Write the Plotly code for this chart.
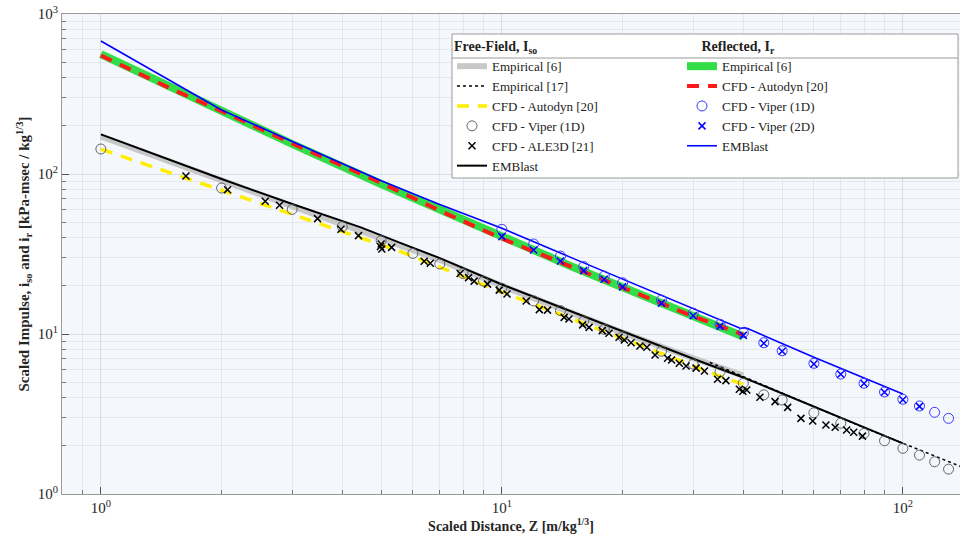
import numpy as np
import plotly.graph_objects as go

# ---------------- data ----------------
# Free-field
ff_emp6_z = [1, 1.5, 2, 3, 5, 7, 10, 15, 20, 30, 40]
ff_emp6_i = [172, 118, 90.5, 63, 39.5, 29, 20.0, 13.4, 10.2, 7.05, 5.5]

ff_emp17_z = [33, 40, 50, 60, 80, 100, 120, 140]
ff_emp17_i = [6.65, 5.41, 4.25, 3.52, 2.6, 2.07, 1.72, 1.48]

ff_autodyn_z = [1, 1.14, 2, 3, 5.6, 9.73, 20, 35.2, 40]
ff_autodyn_i = [143, 128, 79.4, 56, 32.7, 18.8, 9.4, 5.41, 4.85]

ff_viper1d_z = [1, 2, 3, 4, 5, 6, 7, 8, 9, 10, 12, 14, 16, 18, 20, 25, 30, 35, 40,
                45, 50, 60, 70, 80, 90, 100, 110, 120, 130]
ff_viper1d_i = [143.3, 81.7, 60.1, 46.9, 38.3, 31.9, 27.4, 23.9, 21.4, 19.3, 16.1, 14.0,
                12.05, 10.7, 9.62, 7.8, 6.49, 5.81, 4.92, 4.17, 3.87, 3.22, 2.77, 2.39,
                2.15, 1.93, 1.75, 1.59, 1.43]

ff_ale3d_z = [1.63, 2.07, 2.57, 2.79, 3.47, 3.97, 4.39, 4.98, 5.0, 5.02, 5.31, 6.4, 6.63,
              7.87, 8.26, 8.53, 9.21, 9.85, 10.3, 11.5, 12.4, 13.0, 14.3, 14.7, 15.9, 16.5,
              17.8, 18.5, 19.6, 20.2, 21.0, 22.1, 23.0, 24.1, 25.9, 26.5, 27.7, 28.8, 30.5,
              32.0, 34.5, 36.2, 39.1, 39.9, 40.8, 44.0, 48.0, 51.6, 55.7, 59.6, 64.3, 67.8,
              72.4, 75.4, 79.3]
ff_ale3d_i = [97.2, 79.8, 67.5, 63.7, 52.6, 45.1, 41.2, 35.2, 36.5, 34.0, 34.8, 28.5, 27.7,
              23.9, 22.5, 21.4, 20.5, 18.8, 17.8, 16.1, 14.2, 14.1, 12.7, 12.4, 11.4, 11.0,
              10.5, 10.1, 9.54, 9.17, 8.82, 8.41, 8.26, 7.39, 7.05, 6.88, 6.56, 6.31, 6.12,
              5.87, 5.21, 5.11, 4.51, 4.39, 4.47, 4.02, 3.78, 3.48, 2.97, 2.86, 2.70, 2.61,
              2.51, 2.43, 2.30]

ff_emblast_z = [1, 1.5, 2, 3, 4.45, 5.6, 7, 10, 15, 20, 30, 40, 60, 80, 100]
ff_emblast_i = [177, 121.5, 93, 64.9, 46.4, 37, 29.8, 20.4, 13.7, 10.4, 7.0, 5.35, 3.52, 2.6, 2.07]

# Reflected
rf_emp6_z = [1, 1.5, 2, 3, 5, 7, 10, 15, 20, 30, 40]
rf_emp6_i = [562, 345, 245, 154, 86.6, 59.7, 40.2, 26.3, 19.6, 13.0, 9.65]

rf_autodyn_z = [1, 1.5, 2, 3, 5, 7, 10, 15, 20, 30, 40]
rf_autodyn_i = [550, 340, 247, 155, 88, 59, 39.5, 26, 19.4, 12.9, 9.9]

rf_viper1d_z = [10, 12, 14, 16, 18, 20, 25, 30, 35, 40, 45, 50, 60, 70, 80, 90, 100, 110, 120, 130]
rf_viper1d_i = [45.1, 36.5, 30.7, 26.4, 23.0, 20.9, 16.3, 13.5, 11.5, 10.2, 8.82, 7.86, 6.56,
                5.62, 4.92, 4.34, 3.91, 3.55, 3.24, 2.97]

rf_viper2d_z = [10, 12, 14, 16, 18, 20, 25, 30, 35, 40, 45, 50, 60, 70, 80, 90, 100, 110]
rf_viper2d_i = [40.6, 33.5, 28.6, 24.9, 22.0, 19.7, 15.6, 13.0, 11.2, 9.8, 8.75, 7.8, 6.5,
                5.6, 4.9, 4.32, 3.88, 3.53]

rf_emblast_z = [1, 1.5, 2, 3, 5, 7, 10, 15, 20, 30, 39.4, 40.2, 41, 60, 80, 100]
rf_emblast_i = [678, 379, 251, 159.7, 90.8, 64.4, 45.8, 29.8, 22.1, 14.4, 10.82, 10.95, 10.82,
                7.15, 5.34, 4.22]

x_tick_vals = [1, 10, 100]
x_tick_text = ["10<sup>0</sup>", "10<sup>1</sup>", "10<sup>2</sup>"]
y_tick_vals = [1, 10, 100, 1000]
y_tick_text = ["10<sup>0</sup>", "10<sup>1</sup>", "10<sup>2</sup>", "10<sup>3</sup>"]

# ---------------- figure ----------------
SERIF = "Liberation Serif"
fig = go.Figure()

def line(z, i, name, color, width, dash="solid", legend="legend", rank=1):
    fig.add_trace(go.Scatter(x=z, y=i, mode="lines", name=name,
                             line=dict(color=color, width=width, dash=dash),
                             legend=legend, legendrank=rank))

def marks(z, i, name, symbol, color, size, lw, legend="legend", rank=1):
    fig.add_trace(go.Scatter(x=z, y=i, mode="markers", name=name,
                             marker=dict(symbol=symbol, size=size, color=color,
                                         line=dict(color=color, width=lw)),
                             legend=legend, legendrank=rank))

# thick empirical bands first
line(ff_emp6_z, ff_emp6_i, "Empirical [6]", "#c8c8c8", 6, legend="legend", rank=1)
line(rf_emp6_z, rf_emp6_i, "Empirical [6]", "#33dd48", 8, legend="legend2", rank=1)
line(ff_autodyn_z, ff_autodyn_i, "CFD - Autodyn [20]", "#ffee00", 3.5, dash="12px,9px",
     legend="legend", rank=3)
line(rf_autodyn_z, rf_autodyn_i, "CFD - Autodyn [20]", "#ff1a1a", 4, dash="12px,9px",
     legend="legend2", rank=2)
line(ff_emp17_z, ff_emp17_i, "Empirical [17]", "#000000", 1.5, dash="dot",
     legend="legend", rank=2)
line(ff_emblast_z, ff_emblast_i, "EMBlast", "#000000", 2, legend="legend", rank=6)
line(rf_emblast_z, rf_emblast_i, "EMBlast", "#0000ff", 1.6, legend="legend2", rank=5)

marks(ff_viper1d_z, ff_viper1d_i, "CFD - Viper (1D)", "circle-open", "#555555", 10, 0.9,
      legend="legend", rank=4)
marks(ff_ale3d_z, ff_ale3d_i, "CFD - ALE3D [21]", "x-thin-open", "#000000", 7, 1.5,
      legend="legend", rank=5)
marks(rf_viper1d_z, rf_viper1d_i, "CFD - Viper (1D)", "circle-open", "#3a3aff", 10, 1,
      legend="legend2", rank=3)
marks(rf_viper2d_z, rf_viper2d_i, "CFD - Viper (2D)", "x-thin-open", "#0000ff", 7, 1.5,
      legend="legend2", rank=4)

# page body margin is removed (see post_script), so figure pixels == page pixels
L, R, T, B = 62, 0, 14, 47
W, H = 960, 541
pw, ph = W - L - R, H - T - B

def px_x(p):  # page pixel -> paper x
    return (p - L) / pw

def px_y(p):  # page pixel -> paper y
    return (H - B - p) / ph

minor_x = [m * 10 ** d for d in range(-1, 3) for m in range(2, 10)]
minor_x = [v for v in minor_x if 0.8 <= v <= 140]
minor_y = [m * 10 ** d for d in range(0, 3) for m in range(2, 10)]

axis_common = dict(
    type="log", showline=True, linecolor="#9a9a9a", linewidth=1, mirror=True,
    ticks="inside", ticklen=7, tickcolor="#555555", showgrid=True,
    gridcolor="rgba(120,130,140,0.22)", gridwidth=1, zeroline=False,
    automargin=False, ticklabeloverflow="allow",
    tickfont=dict(family=SERIF, size=15, color="#262626"),
)

leg_font = dict(family=SERIF, size=13, color="#222222")
title_font = dict(family=SERIF, size=14, color="#222222")

fig.update_layout(
    width=W, height=H,
    margin=dict(l=L, r=R, t=T, b=B, autoexpand=False),
    paper_bgcolor="white",
    plot_bgcolor="#f4f8fd",
    font=dict(family=SERIF, size=14, color="#222222"),
    xaxis=dict(
        **axis_common,
        range=[np.log10(0.8), np.log10(0.8) + pw / 401.0],
        tickmode="array", tickvals=x_tick_vals, ticktext=x_tick_text,
        minor=dict(tickmode="array", tickvals=minor_x, ticks="inside", ticklen=4,
                   tickcolor="#777777", showgrid=True,
                   gridcolor="rgba(120,130,140,0.12)"),
        title=dict(text="<b>Scaled Distance, Z [m/kg<sup>1/3</sup>]</b>",
                   font=dict(family=SERIF, size=14, color="#262626"), standoff=6),
    ),
    yaxis=dict(
        **axis_common,
        range=[0, 3],
        tickmode="array", tickvals=y_tick_vals, ticktext=y_tick_text,
        minor=dict(tickmode="array", tickvals=minor_y, ticks="inside", ticklen=4,
                   tickcolor="#777777", showgrid=True,
                   gridcolor="rgba(120,130,140,0.12)"),
        title=dict(text="<b>Scaled Impulse, i<sub>so</sub> and i<sub>r</sub> [kPa-msec / kg<sup>1/3</sup>]</b>",
                   font=dict(family=SERIF, size=15, color="#262626"), standoff=4),
    ),
    legend=dict(
        x=px_x(452), y=px_y(33), xanchor="left", yanchor="top",
        bgcolor="rgba(0,0,0,0)", borderwidth=0,
        font=leg_font,
        title=dict(text="<b>Free-Field, I<sub>so</sub></b>", side="top", font=title_font),
        itemwidth=30, tracegroupgap=0, traceorder="normal",
    ),
    legend2=dict(
        x=px_x(682), y=px_y(33), xanchor="left", yanchor="top",
        bgcolor="rgba(0,0,0,0)", borderwidth=0,
        font=leg_font,
        title=dict(text="&nbsp;&nbsp;&nbsp;&nbsp;&nbsp;<b>Reflected, I<sub>r</sub></b>",
                   side="top", font=title_font),
        itemwidth=30, tracegroupgap=0, traceorder="normal",
    ),
    shapes=[
        dict(type="rect", xref="paper", yref="paper",
             x0=px_x(452), x1=px_x(958), y0=px_y(178), y1=px_y(34),
             fillcolor="white", line=dict(color="#9a9a9a", width=1), layer="above"),
        dict(type="line", xref="paper", yref="paper",
             x0=px_x(452), x1=px_x(958), y0=px_y(58), y1=px_y(58),
             line=dict(color="#9a9a9a", width=1), layer="above"),
    ],
)

fig.write_html("out.html",
               config={"displayModeBar": False},
               post_script="document.body.style.margin='0px';"
                           "document.body.style.overflow='hidden';")
